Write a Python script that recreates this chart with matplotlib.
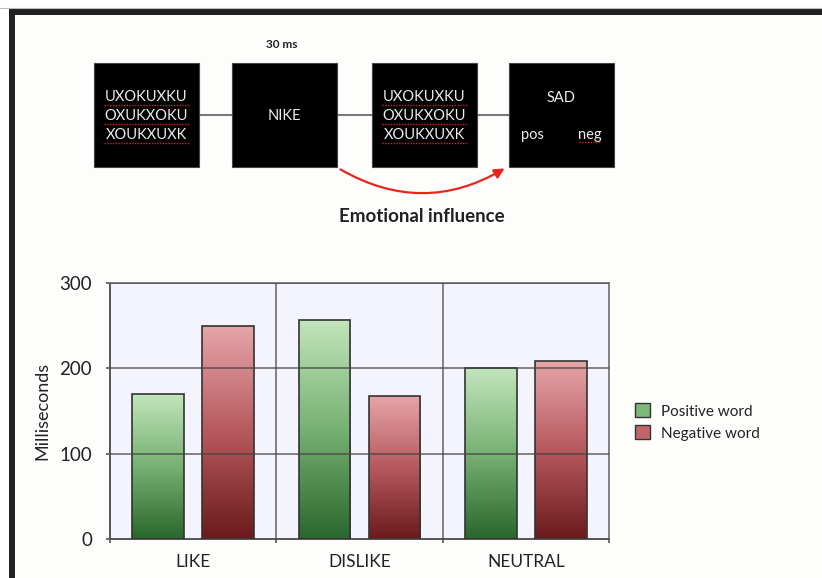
import numpy as np
import matplotlib.pyplot as plt
from matplotlib.patches import Rectangle, FancyArrowPatch, Patch
from matplotlib.colors import LinearSegmentedColormap

plt.rcParams['font.family'] = ['Lato', 'DejaVu Sans']

# ---- data -------------------------------------------------------------
categories = ["LIKE", "DISLIKE", "NEUTRAL"]
positive_word = [170, 257, 200]
negative_word = [250, 168, 209]
series_names = ["Positive word", "Negative word"]
y_ticks = [0, 100, 200, 300]

mask_lines = ["UXOKUXKU", "OXUKXOKU", "XOUKXUXK"]
prime_word = "NIKE"
target_word = "SAD"
prime_duration = "30 ms"
arrow_caption = "Emotional influence"

# ---- figure -----------------------------------------------------------
W, H = 822, 578
fig = plt.figure(figsize=(W / 100, H / 100), dpi=100)
fig.patch.set_facecolor("#fdfdfb")

# overlay in pixel coordinates for the frame and the trial diagram
ov = fig.add_axes([0, 0, 1, 1])
ov.set_xlim(0, W)
ov.set_ylim(H, 0)
ov.axis("off")

# outer frame
ov.add_patch(Rectangle((0, 0), W, 8, color="white", zorder=0))
ov.add_patch(Rectangle((0, 0), 9, H, color="white", zorder=0))
ov.plot([0, W], [8, 8], color="#bbbbbb", lw=0.8)
ov.add_patch(Rectangle((9, 9), W - 9, 6, color="#222222", lw=0))
ov.add_patch(Rectangle((9, 9), 6, H - 9, color="#222222", lw=0))

# trial sequence boxes
box_y0, box_y1 = 63, 167
box_x = [94, 232, 372, 509]
box_w = 105
mid_y = 115
for i in range(3):
    ov.plot([box_x[i] + box_w, box_x[i + 1]], [mid_y, mid_y],
            color="#777777", lw=1.5, zorder=1)
for x in box_x:
    ov.add_patch(Rectangle((x, box_y0), box_w, box_y1 - box_y0,
                           facecolor="black", edgecolor="#444444",
                           lw=0.8, zorder=2))

txt_kw = dict(color="#eeeeee", fontsize=10.5, ha="center", va="center", zorder=3)
for x in (box_x[0], box_x[2]):
    cx = x + box_w / 2
    for j, line in enumerate(mask_lines):
        ty = 97 + j * 19
        ov.text(cx, ty, line, **txt_kw)
        ov.plot([cx - 43, cx + 43], [ty + 8, ty + 8], color="#d42020",
                lw=1.0, ls=(0, (1, 1)), zorder=3)

ov.text(box_x[1] + box_w / 2, mid_y + 1, prime_word, **txt_kw)
ov.text(box_x[3] + box_w / 2, 98, target_word, **txt_kw)
ov.text(box_x[3] + 23, 135, "pos", color="#eeeeee", fontsize=10.5,
        ha="center", va="center", zorder=3)
ov.text(box_x[3] + 81, 135, "neg", color="#eeeeee", fontsize=10.5,
        ha="center", va="center", zorder=3)
ov.plot([box_x[3] + 70, box_x[3] + 92], [142, 142], color="#d42020",
        lw=1.0, ls=(0, (1, 1)), zorder=3)

ov.text(box_x[1] + box_w / 2 - 3, 44, prime_duration, fontsize=8.5,
        fontweight="bold", color="#222222", ha="center", va="center")

arrow = FancyArrowPatch((338, 168), (507, 167),
                        connectionstyle="arc3,rad=0.3",
                        arrowstyle="-|>,head_length=6,head_width=3",
                        color="#e8261e", lw=1.6, zorder=4)
ov.add_patch(arrow)
ov.text(422, 217, arrow_caption, fontsize=13.5, fontweight="bold",
        color="#222222", ha="center", va="center")

# ---- bar chart --------------------------------------------------------
left, right, top, bottom = 110, 609, 283, 539
ax = fig.add_axes([left / W, 1 - bottom / H, (right - left) / W, (bottom - top) / H])
ax.set_facecolor("#f4f4fe")
ax.set_xlim(0, len(categories))
ax.set_ylim(0, 300)

green_cmap = LinearSegmentedColormap.from_list("g", ["#2a672c", "#77b173", "#c3e5bc"])
red_cmap = LinearSegmentedColormap.from_list("r", ["#6b1a1c", "#b7595e", "#e6a6a9"])

bar_w = 0.31
offsets = [-0.21, 0.21]
grad = np.linspace(0, 1, 256).reshape(-1, 1)
x = np.arange(len(categories)) + 0.5
for vals, off, cmap in ((positive_word, offsets[0], green_cmap),
                        (negative_word, offsets[1], red_cmap)):
    bars = ax.bar(x + off, vals, width=bar_w, facecolor="none",
                  edgecolor="#333333", linewidth=1.2, zorder=3)
    for b in bars:
        x0, w, h = b.get_x(), b.get_width(), b.get_height()
        im = ax.imshow(grad, extent=[x0, x0 + w, 0, h], origin="lower",
                       cmap=cmap, aspect="auto", zorder=2)
        im.set_clip_path(b)

ax.set_xlim(0, len(categories))
ax.set_ylim(0, 300)

# grid drawn over the bars
for yv in y_ticks[1:]:
    ax.axhline(yv, color="#444444", lw=1.3, alpha=0.7, zorder=5)
for xv in range(1, len(categories)):
    ax.axvline(xv, color="#444444", lw=1.3, alpha=0.7, zorder=5)

for side in ("left", "bottom"):
    ax.spines[side].set_color("#555555")
    ax.spines[side].set_linewidth(1.4)
for side in ("top", "right"):
    ax.spines[side].set_color("#777777")
    ax.spines[side].set_linewidth(1.3)

ax.set_yticks(y_ticks)
ax.set_yticklabels([str(v) for v in y_ticks], fontsize=13.5, color="#222222")
ax.tick_params(axis="y", length=3, width=1.2, color="#555555", pad=10)
ax.set_xticks(x)
ax.set_xticklabels(categories, fontsize=12.5, color="#222222")
ax.tick_params(axis="x", length=0, pad=11)
ax.set_xticks(range(len(categories) + 1), minor=True)
ax.tick_params(axis="x", which="minor", length=3, width=1.2, color="#555555")

fig.text(42 / W, 1 - 411 / H, "Milliseconds", rotation=90, fontsize=13,
         color="#222222", ha="center", va="center")

handles = [Patch(facecolor="#7db87a", edgecolor="#333333", lw=1.0),
           Patch(facecolor="#c0666b", edgecolor="#333333", lw=1.0)]
fig.legend(handles, series_names, loc="center left",
           bbox_to_anchor=(627 / W, 1 - 422 / H), frameon=False,
           fontsize=11, handlelength=1.0, handleheight=1.0,
           handletextpad=0.7, labelspacing=0.45, labelcolor="#222222",
           borderpad=0)

fig.savefig("out.png", dpi=100, facecolor=fig.get_facecolor())
